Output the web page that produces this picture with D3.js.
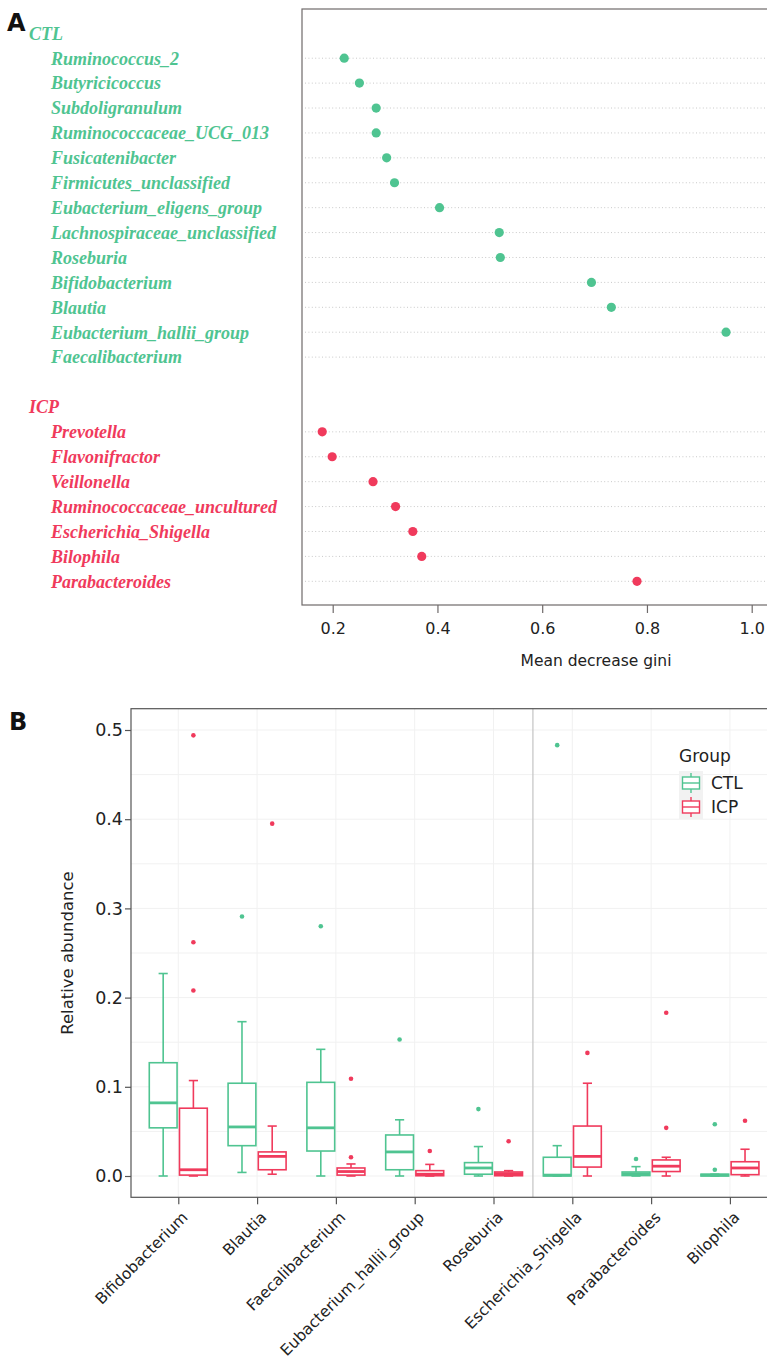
<!DOCTYPE html>
<html>
<head>
<meta charset="utf-8">
<script src="https://cdn.jsdelivr.net/npm/d3@7"></script>
<style>
  html, body { margin: 0; padding: 0; background: #fff; }
  svg { display: block; }
</style>
</head>
<body>
<svg id="chart" width="767" height="1365"></svg>
<script>
// ---------------- Panel A data ----------------
const ctlGenera = ["Ruminococcus_2", "Butyricicoccus", "Subdoligranulum", "Ruminococcaceae_UCG_013",
  "Fusicatenibacter", "Firmicutes_unclassified", "Eubacterium_eligens_group", "Lachnospiraceae_unclassified",
  "Roseburia", "Bifidobacterium", "Blautia", "Eubacterium_hallii_group", "Faecalibacterium"];
const ctlGini = [0.222, 0.251, 0.283, 0.283, 0.303, 0.318, 0.404, 0.518, 0.520, 0.694, 0.732, 0.951, 1.10];
const icpGenera = ["Prevotella", "Flavonifractor", "Veillonella", "Ruminococcaceae_uncultured",
  "Escherichia_Shigella", "Bilophila", "Parabacteroides"];
const icpGini = [0.180, 0.199, 0.277, 0.320, 0.353, 0.370, 0.781];
const giniTicks = [0.2, 0.4, 0.6, 0.8, 1.0];

// ---------------- Panel B data ----------------
const boxCategories = ["Bifidobacterium", "Blautia", "Faecalibacterium", "Eubacterium_hallii_group",
  "Roseburia", "Escherichia_Shigella", "Parabacteroides", "Bilophila"];
const groups = ["CTL", "ICP"];
const ctlMin = [0.000, 0.004, 0.000, 0.000, 0.000, 0.000, 0.000, 0.000];
const ctlQ1  = [0.054, 0.034, 0.028, 0.007, 0.002, 0.000, 0.0005, 0.000];
const ctlMed = [0.082, 0.055, 0.054, 0.027, 0.009, 0.001, 0.0025, 0.001];
const ctlQ3  = [0.127, 0.104, 0.105, 0.046, 0.015, 0.021, 0.0045, 0.002];
const ctlMax = [0.227, 0.173, 0.142, 0.063, 0.033, 0.034, 0.0105, 0.002];
const ctlOut = [[], [0.291], [0.280], [0.153], [0.075], [0.483], [0.019], [0.058, 0.007]];
const icpMin = [0.000, 0.002, 0.000, 0.000, 0.000, 0.000, 0.000, 0.000];
const icpQ1  = [0.001, 0.007, 0.001, 0.0003, 0.0003, 0.010, 0.005, 0.0015];
const icpMed = [0.007, 0.022, 0.005, 0.002, 0.0025, 0.022, 0.011, 0.009];
const icpQ3  = [0.076, 0.027, 0.009, 0.006, 0.0045, 0.056, 0.018, 0.016];
const icpMax = [0.107, 0.056, 0.0135, 0.013, 0.006, 0.104, 0.021, 0.030];
const icpOut = [[0.494, 0.262, 0.208], [0.395], [0.109, 0.021], [0.028], [0.039], [0.138], [0.183, 0.054], [0.062]];
const abundTicks = [0.0, 0.1, 0.2, 0.3, 0.4, 0.5];
const abundMinor = [0.05, 0.15, 0.25, 0.35, 0.45];

const GREEN = "#4fc491";
const RED = "#f03a5c";
const colorOf = d3.scaleOrdinal().domain(groups).range([GREEN, RED]);

const svg = d3.select("#chart");

// ================= PANEL A =================
const rowsA = ["hdr:CTL", ...ctlGenera.map(g => "ctl:" + g), "blank", "hdr:ICP", ...icpGenera.map(g => "icp:" + g)];
const yA = d3.scalePoint().domain(rowsA).range([33.3, 581.3]);
const xA = d3.scaleLinear().domain([0.2, 1.0]).range([332.7, 751.7]);
const A = { left: 302, top: 9, bottom: 605, right: 790 };

svg.append("text").attr("x", 7).attr("y", 31).text("A")
  .attr("font-family", "DejaVu Sans, sans-serif").attr("font-weight", "bold").attr("font-size", 24).attr("fill", "#111");

const pointsA = [
  ...ctlGenera.map((g, i) => ({ key: "ctl:" + g, name: g, v: ctlGini[i], grp: "CTL" })),
  ...icpGenera.map((g, i) => ({ key: "icp:" + g, name: g, v: icpGini[i], grp: "ICP" }))
];

// dotted guide lines
svg.append("g").selectAll("line").data(pointsA).join("line")
  .attr("x1", A.left + 3).attr("x2", A.right)
  .attr("y1", d => yA(d.key)).attr("y2", d => yA(d.key))
  .attr("stroke", "#c9c9c9").attr("stroke-width", 1).attr("stroke-dasharray", "1,2.4");

// frame
svg.append("rect").attr("x", A.left).attr("y", A.top).attr("width", A.right - A.left).attr("height", A.bottom - A.top)
  .attr("fill", "none").attr("stroke", "#6f6a6a").attr("stroke-width", 1.2);

// labels
const lblA = svg.append("g").attr("font-family", "Liberation Serif, Times New Roman, serif")
  .attr("font-style", "italic").attr("font-weight", "bold").attr("font-size", 18);
lblA.append("text").attr("x", 29).attr("y", yA("hdr:CTL")).attr("dy", "0.35em").attr("fill", GREEN).text("CTL");
lblA.append("text").attr("x", 29).attr("y", yA("hdr:ICP")).attr("dy", "0.35em").attr("fill", RED).text("ICP");
lblA.selectAll("text.item").data(pointsA).join("text").attr("class", "item")
  .attr("x", 51).attr("y", d => yA(d.key)).attr("dy", "0.35em")
  .attr("fill", d => colorOf(d.grp)).text(d => d.name);

// dots
svg.append("g").selectAll("circle").data(pointsA).join("circle")
  .attr("cx", d => xA(d.v)).attr("cy", d => yA(d.key)).attr("r", 4.6)
  .attr("fill", d => colorOf(d.grp));

// x axis
const axA = svg.append("g").attr("transform", `translate(0,${A.bottom})`)
  .call(d3.axisBottom(xA).tickValues(giniTicks).tickFormat(d3.format(".1f")).tickSize(8).tickSizeOuter(0));
axA.select(".domain").remove();
axA.selectAll(".tick line").attr("stroke", "#6f6a6a").attr("stroke-width", 1.2);
axA.selectAll(".tick text").attr("font-family", "DejaVu Sans, sans-serif").attr("font-size", 16)
  .attr("fill", "#222").attr("dy", "1.1em");
svg.append("text").attr("x", 596).attr("y", 666).attr("text-anchor", "middle")
  .attr("font-family", "DejaVu Sans, sans-serif").attr("font-size", 15.5).attr("fill", "#222")
  .text("Mean decrease gini");

// ================= PANEL B =================
const B = { left: 131, top: 708.7, bottom: 1197.3, right: 790 };
const xB = d3.scalePoint().domain(boxCategories).range([131, 777.2]).padding(0.6);
const xG = d3.scaleBand().domain(groups).range([-29, 29]).paddingInner(0.08);
const yB = d3.scaleLinear().domain([0, 0.5]).range([1176, 730]);

svg.append("text").attr("x", 9).attr("y", 730).text("B")
  .attr("font-family", "DejaVu Sans, sans-serif").attr("font-weight", "bold").attr("font-size", 24).attr("fill", "#111");

// faint grid
const grid = svg.append("g").attr("stroke", "#f1f1f1").attr("stroke-width", 1);
grid.selectAll("line.h").data([...abundTicks, ...abundMinor]).join("line").attr("class", "h")
  .attr("x1", B.left).attr("x2", B.right).attr("y1", d => yB(d)).attr("y2", d => yB(d));
grid.selectAll("line.v").data(boxCategories).join("line").attr("class", "v")
  .attr("x1", d => xB(d)).attr("x2", d => xB(d)).attr("y1", B.top).attr("y2", B.bottom);

// separator between CTL-enriched and ICP-enriched genera
const sepX = (xB("Roseburia") + xB("Escherichia_Shigella")) / 2;
svg.append("line").attr("x1", sepX).attr("x2", sepX).attr("y1", B.top).attr("y2", B.bottom)
  .attr("stroke", "#c8c8c8").attr("stroke-width", 1.3);

// box data
const boxes = [];
boxCategories.forEach((c, i) => {
  boxes.push({ cat: c, grp: "CTL", min: ctlMin[i], q1: ctlQ1[i], med: ctlMed[i], q3: ctlQ3[i], max: ctlMax[i], out: ctlOut[i] });
  boxes.push({ cat: c, grp: "ICP", min: icpMin[i], q1: icpQ1[i], med: icpMed[i], q3: icpQ3[i], max: icpMax[i], out: icpOut[i] });
});
const bw = xG.bandwidth();
const capW = bw * 0.33;
const bx = d => xB(d.cat) + xG(d.grp);
const cx = d => bx(d) + bw / 2;

const bg = svg.append("g").selectAll("g").data(boxes).join("g")
  .attr("stroke", d => colorOf(d.grp)).attr("fill", "none").attr("stroke-width", 1.6);
// whiskers
bg.append("line").attr("x1", cx).attr("x2", cx).attr("y1", d => yB(d.q3)).attr("y2", d => yB(d.max));
bg.append("line").attr("x1", cx).attr("x2", cx).attr("y1", d => yB(d.q1)).attr("y2", d => yB(d.min));
bg.append("line").attr("x1", d => cx(d) - capW / 2).attr("x2", d => cx(d) + capW / 2).attr("y1", d => yB(d.max)).attr("y2", d => yB(d.max));
bg.append("line").attr("x1", d => cx(d) - capW / 2).attr("x2", d => cx(d) + capW / 2).attr("y1", d => yB(d.min)).attr("y2", d => yB(d.min));
// box
bg.append("rect").attr("x", bx).attr("width", bw)
  .attr("y", d => yB(d.q3)).attr("height", d => Math.max(0.5, yB(d.q1) - yB(d.q3))).attr("fill", "#fff");
// median
bg.append("line").attr("x1", bx).attr("x2", d => bx(d) + bw).attr("y1", d => yB(d.med)).attr("y2", d => yB(d.med))
  .attr("stroke-width", 2.8);
// outliers
bg.selectAll("circle").data(d => d.out.map(v => ({ v, d }))).join("circle")
  .attr("cx", o => cx(o.d)).attr("cy", o => yB(o.v)).attr("r", 2.3)
  .attr("fill", o => colorOf(o.d.grp)).attr("stroke", "none");

// frame lines
svg.append("rect").attr("x", B.left).attr("y", B.top).attr("width", B.right - B.left).attr("height", B.bottom - B.top)
  .attr("fill", "none").attr("stroke", "#555").attr("stroke-width", 1.2);

// y axis
const ayB = svg.append("g").attr("transform", `translate(${B.left},0)`)
  .call(d3.axisLeft(yB).tickValues(abundTicks).tickFormat(d3.format(".1f")).tickSize(6).tickSizeOuter(0));
ayB.select(".domain").remove();
ayB.selectAll(".tick line").attr("stroke", "#555").attr("stroke-width", 1.2);
ayB.selectAll(".tick text").attr("font-family", "DejaVu Sans, sans-serif").attr("font-size", 17.5)
  .attr("fill", "#222").attr("x", -8);

svg.append("text").attr("transform", `translate(73,${(B.top + B.bottom) / 2}) rotate(-90)`)
  .attr("text-anchor", "middle").attr("font-family", "DejaVu Sans, sans-serif").attr("font-size", 16.5)
  .attr("fill", "#222").text("Relative abundance");

// x axis
const axB = svg.append("g").attr("transform", `translate(0,${B.bottom})`)
  .call(d3.axisBottom(xB).tickSize(7).tickSizeOuter(0));
axB.select(".domain").remove();
axB.selectAll(".tick line").attr("stroke", "#555").attr("stroke-width", 1.2);
axB.selectAll(".tick text").attr("font-family", "DejaVu Sans, sans-serif").attr("font-size", 15.5)
  .attr("fill", "#222").attr("text-anchor", "end")
  .attr("transform", "translate(10,21) rotate(-45)").attr("y", 0).attr("dy", 0);

// legend
const lg = svg.append("g").attr("font-family", "DejaVu Sans, sans-serif").attr("fill", "#222");
lg.append("text").attr("x", 679).attr("y", 762).attr("font-size", 17).text("Group");
groups.forEach((g, i) => {
  const ky = 771 + i * 24;
  lg.append("rect").attr("x", 679).attr("y", ky).attr("width", 24).attr("height", 24).attr("fill", "#f2f2f2");
  const k = lg.append("g").attr("stroke", colorOf(g)).attr("fill", "none").attr("stroke-width", 1.4);
  k.append("line").attr("x1", 691).attr("x2", 691).attr("y1", ky + 2).attr("y2", ky + 22);
  k.append("rect").attr("x", 682.5).attr("y", ky + 6).attr("width", 17).attr("height", 12).attr("fill", "#fff");
  k.append("line").attr("x1", 682.5).attr("x2", 699.5).attr("y1", ky + 12).attr("y2", ky + 12);
  lg.append("text").attr("x", 711).attr("y", ky + 12).attr("dy", "0.36em").attr("font-size", 17).text(g);
});
</script>
</body>
</html>
